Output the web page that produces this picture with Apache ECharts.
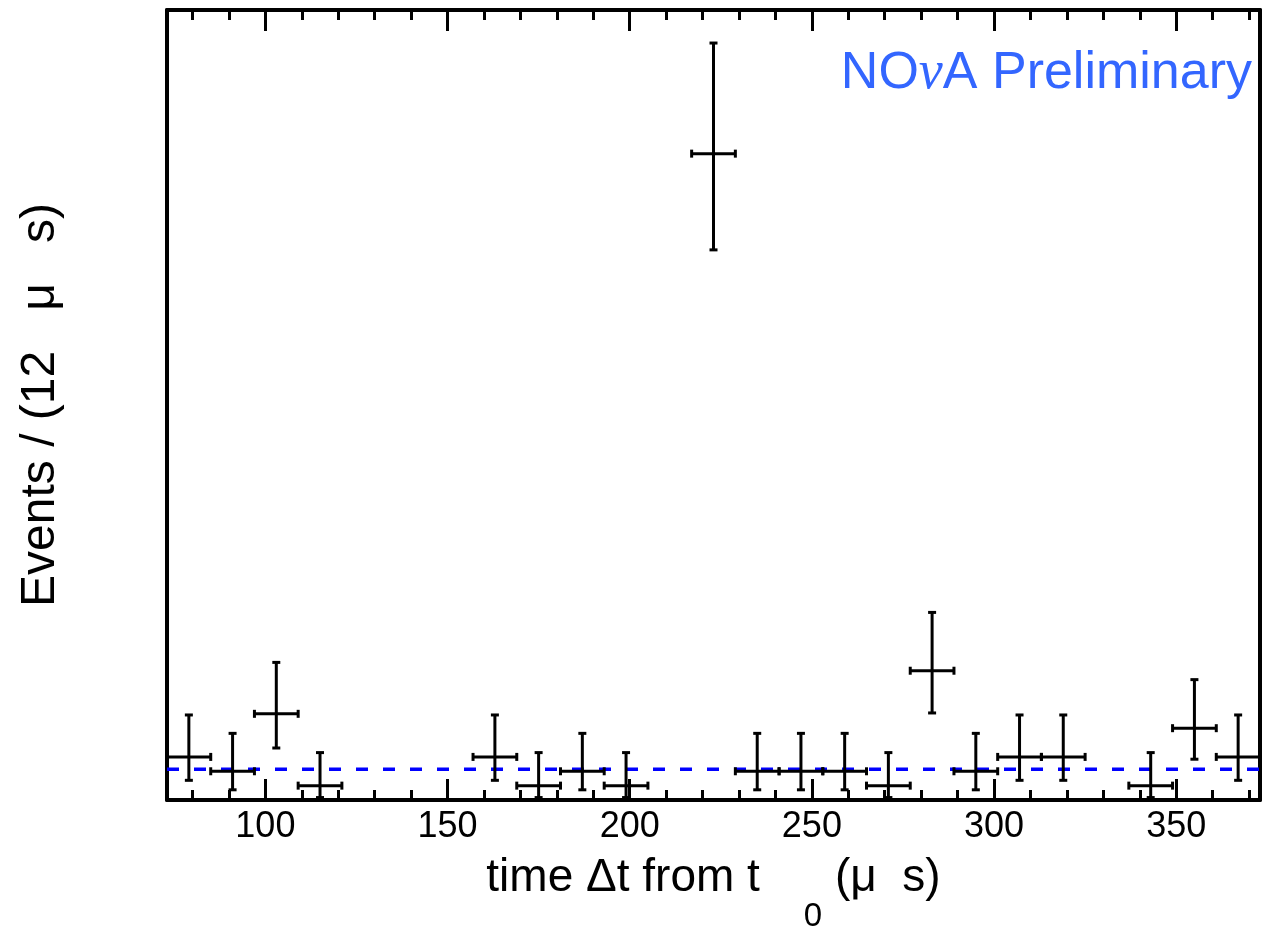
<!DOCTYPE html>
<html>
<head>
<meta charset="utf-8">
<script src="https://cdn.jsdelivr.net/npm/echarts@6/dist/echarts.min.js"></script>
<style>
  html, body { margin: 0; padding: 0; background: #fff; }
  #chart { width: 1263px; height: 930px; }
</style>
</head>
<body>
<div id="chart"></div>
<script>
// bin centres (μs), 12 μs bins from 73 to 373
const binCenters = [79, 91, 103, 115, 127, 139, 151, 163, 175, 187, 199, 211, 223,
                    235, 247, 259, 271, 283, 295, 307, 319, 331, 343, 355, 367];
// events per bin
const counts = [3, 2, 6, 1, 0, 0, 0, 3, 1, 2, 1, 0, 45,
                2, 2, 2, 1, 9, 2, 3, 3, 0, 1, 5, 3];
// lower / upper ends of the vertical error bars
const errLow = [1.37, 0.71, 3.62, 0.17, 0, 0, 0, 1.37, 0.17, 0.71, 0.17, 0, 38.3,
                0.71, 0.71, 0.71, 0.17, 6.06, 0.71, 1.37, 1.37, 0, 0.17, 2.84, 1.37];
const errHigh = [5.92, 4.64, 9.58, 3.30, 0, 0, 0, 5.92, 3.30, 4.64, 3.30, 0, 52.7,
                 4.64, 4.64, 4.64, 3.30, 13.06, 4.64, 5.92, 5.92, 0, 3.30, 8.38, 5.92];
// flat background fit (dashed blue)
const fitX = [73, 373];
const fitY = [2.14, 2.14];
// tick positions
const majorTicks = [100, 150, 200, 250, 300, 350];
const minorTicks = [80, 90, 110, 120, 130, 140, 160, 170, 180, 190, 210, 220, 230, 240,
                    260, 270, 280, 290, 310, 320, 330, 340, 360, 370];

const binWidth = 12;

const chart = echarts.init(document.getElementById('chart'));

// 误差棒数据，跳过空 bin
let barData = [];
binCenters.forEach((x, i) => {
    if (counts[i] > 0) {
        barData.push([x, counts[i], errLow[i], errHigh[i]]);
    }
});

function renderErr(params, api) {
    const x = api.value(0), n = api.value(1);
    const c = api.coord([x, n]);
    const top = api.coord([x, api.value(3)]);
    const bot = api.coord([x, api.value(2)]);
    const l = api.coord([x - binWidth / 2, n]);
    const r = api.coord([x + binWidth / 2, n]);
    const cap = 4;
    const st = { stroke: '#000', lineWidth: 3 };
    const line = (x1, y1, x2, y2) => ({ type: 'line', shape: { x1, y1, x2, y2 }, style: st });
    return {
        type: 'group',
        children: [
            line(c[0], top[1], c[0], bot[1]),
            line(c[0] - cap, top[1], c[0] + cap, top[1]),
            line(c[0] - cap, bot[1], c[0] + cap, bot[1]),
            line(l[0], c[1], r[0], c[1]),
            line(l[0], c[1] - cap, l[0], c[1] + cap),
            line(r[0], c[1] - cap, r[0], c[1] + cap)
        ]
    };
}

const baseX = {
    type: 'value',
    min: 73,
    max: 373,
    splitLine: { show: false },
    axisLine: { onZero: false, show: false },
    axisLabel: { show: false },
    axisTick: { show: true, inside: true, lineStyle: { color: '#000', width: 3 } }
};

chart.setOption({
    animation: false,
    backgroundColor: '#fff',
    title: {
        text: '{a|NO}{nu|ν}{a|A Preliminary}',
        right: 6,
        top: 42,
        textStyle: {
            fontWeight: 'normal',
            rich: {
                a: { fontFamily: 'Liberation Sans', fontWeight: 'normal', fontSize: 52, color: '#3366ff' },
                nu: { fontFamily: 'Liberation Serif', fontStyle: 'italic', fontWeight: 'normal',
                      fontSize: 54, color: '#3366ff' }
            }
        }
    },
    grid: { left: 167, right: 3, top: 10, bottom: 130, containLabel: false, outerBoundsMode: 'none' },
    xAxis: [
        Object.assign({}, baseX, {
            position: 'bottom',
            axisLine: { onZero: false, show: true, lineStyle: { color: '#000', width: 4 } },
            axisTick: { show: true, inside: true, length: 21, customValues: majorTicks,
                        lineStyle: { color: '#000', width: 3 } },
            axisLabel: { show: true, customValues: majorTicks, margin: 9,
                         fontFamily: 'Liberation Sans', fontSize: 36, color: '#000' },
            name: 'time Δt from t{sub|0} (μ  s)',
            nameLocation: 'middle',
            nameGap: 23,
            nameTextStyle: {
                fontFamily: 'Liberation Sans', fontSize: 46, color: '#000',
                verticalAlign: 'top',
                rich: {
                    sub: { fontFamily: 'Liberation Sans', fontSize: 33, color: '#000',
                           padding: [77, 0, 0, 44] }
                }
            }
        }),
        Object.assign({}, baseX, {
            position: 'bottom',
            axisTick: { show: true, inside: true, length: 10, customValues: minorTicks,
                        lineStyle: { color: '#000', width: 3 } }
        }),
        Object.assign({}, baseX, {
            position: 'top',
            axisLine: { onZero: false, show: true, lineStyle: { color: '#000', width: 4 } },
            axisTick: { show: true, inside: true, length: 21, customValues: majorTicks,
                        lineStyle: { color: '#000', width: 3 } }
        }),
        Object.assign({}, baseX, {
            position: 'top',
            axisTick: { show: true, inside: true, length: 10, customValues: minorTicks,
                        lineStyle: { color: '#000', width: 3 } }
        })
    ],
    yAxis: [
        {
            type: 'value',
            position: 'left',
            min: 0,
            max: 55,
            splitLine: { show: false },
            axisTick: { show: false },
            axisLabel: { show: false },
            axisLine: { onZero: false, show: true, lineStyle: { color: '#000', width: 4 } },
            name: 'Events / (12   μ   s)',
            nameLocation: 'middle',
            nameGap: 102,
            nameTextStyle: { fontFamily: 'Liberation Sans', fontSize: 48, color: '#000' }
        },
        {
            type: 'value',
            position: 'right',
            min: 0,
            max: 55,
            splitLine: { show: false },
            axisTick: { show: false },
            axisLabel: { show: false },
            axisLine: { onZero: false, show: true, lineStyle: { color: '#000', width: 4 } }
        }
    ],
    series: [
        {
            name: 'fit',
            type: 'line',
            xAxisIndex: 0,
            yAxisIndex: 0,
            data: fitX.map((x, i) => [x, fitY[i]]),
            symbol: 'none',
            lineStyle: { color: '#0000ff', width: 3.5, type: [12, 15] },
            z: 1
        },
        {
            name: 'data',
            type: 'custom',
            xAxisIndex: 0,
            yAxisIndex: 0,
            data: barData,
            encode: { x: 0, y: 1 },
            renderItem: renderErr,
            z: 2
        }
    ]
});

window.addEventListener('resize', () => {
    chart.resize();
});
</script>
</body>
</html>
